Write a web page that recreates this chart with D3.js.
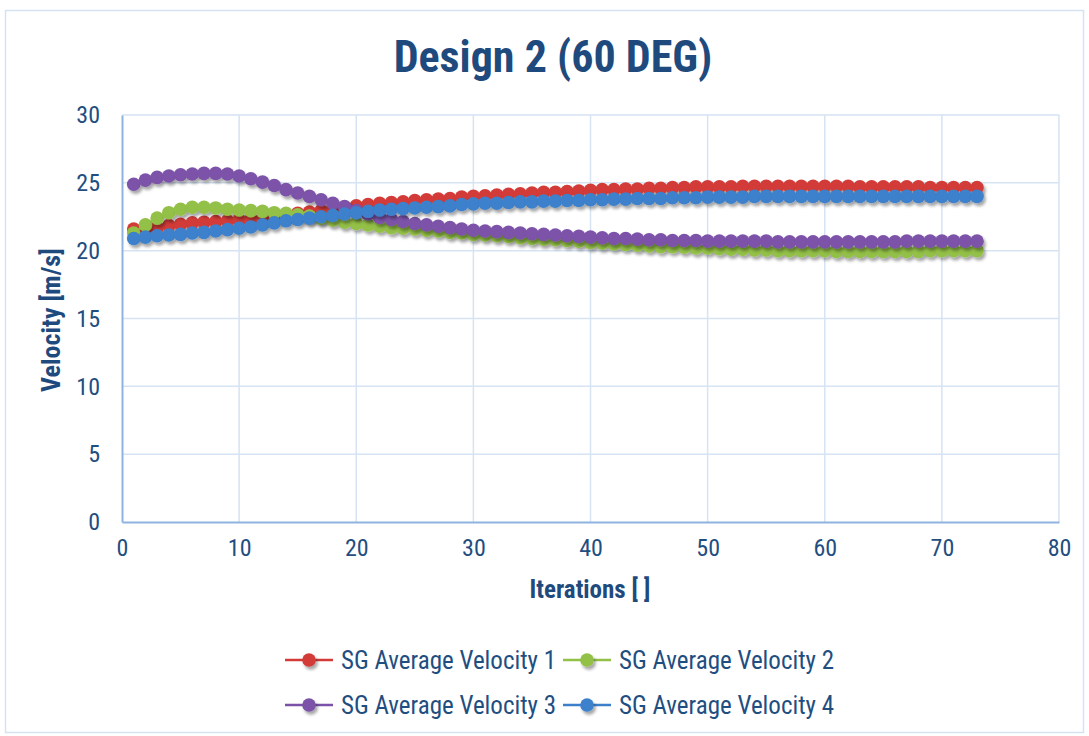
<!DOCTYPE html>
<html><head><meta charset="utf-8">
<script src="https://cdn.jsdelivr.net/npm/d3@7"></script>
<style>
body{margin:0;background:#fff;}
text{font-family:"Liberation Sans Narrow","Arial Narrow","Roboto Condensed","Liberation Sans",sans-serif;}
</style></head>
<body><svg id="c" width="1089" height="736"></svg>
<script>
const iterations = [1,2,3,4,5,6,7,8,9,10,11,12,13,14,15,16,17,18,19,20,21,22,23,24,25,26,27,28,29,30,31,32,33,34,35,36,37,38,39,40,41,42,43,44,45,46,47,48,49,50,51,52,53,54,55,56,57,58,59,60,61,62,63,64,65,66,67,68,69,70,71,72,73];
const velocity1 = [21.6,21.6,21.7,21.85,21.95,22.05,22.1,22.15,22.2,22.25,22.3,22.4,22.5,22.6,22.75,22.85,22.95,23.1,23.2,23.3,23.4,23.5,23.55,23.6,23.7,23.75,23.8,23.85,23.95,24.0,24.05,24.1,24.15,24.2,24.25,24.3,24.3,24.35,24.4,24.45,24.5,24.5,24.55,24.55,24.6,24.6,24.65,24.65,24.7,24.7,24.7,24.7,24.75,24.75,24.75,24.75,24.75,24.75,24.75,24.75,24.75,24.75,24.7,24.7,24.7,24.7,24.7,24.7,24.65,24.65,24.65,24.65,24.65];
const velocity2 = [21.3,21.9,22.4,22.8,23.05,23.2,23.2,23.15,23.05,23.0,22.95,22.9,22.8,22.75,22.65,22.55,22.4,22.25,22.1,22.0,21.9,21.8,21.7,21.65,21.6,21.5,21.45,21.35,21.3,21.2,21.15,21.1,21.05,20.95,20.9,20.85,20.8,20.75,20.7,20.6,20.55,20.5,20.45,20.4,20.35,20.3,20.3,20.25,20.2,20.2,20.15,20.1,20.1,20.05,20.05,20.0,20.0,20.0,20.0,20.0,19.95,19.95,19.95,19.95,19.95,19.95,19.95,19.95,20.0,20.0,20.0,20.0,20.0];
const velocity3 = [24.9,25.2,25.4,25.5,25.6,25.65,25.7,25.7,25.65,25.5,25.3,25.05,24.8,24.5,24.25,24.0,23.75,23.5,23.25,22.95,22.7,22.45,22.3,22.15,22.0,21.9,21.8,21.7,21.6,21.5,21.45,21.4,21.35,21.3,21.25,21.2,21.15,21.1,21.05,21.0,20.95,20.9,20.9,20.85,20.8,20.8,20.75,20.75,20.75,20.7,20.7,20.7,20.7,20.7,20.7,20.65,20.65,20.65,20.65,20.65,20.65,20.65,20.65,20.65,20.65,20.65,20.7,20.7,20.7,20.7,20.7,20.7,20.7];
const velocity4 = [20.9,21.0,21.1,21.15,21.2,21.3,21.35,21.45,21.55,21.65,21.75,21.9,22.05,22.2,22.3,22.4,22.5,22.6,22.7,22.8,22.9,23.0,23.05,23.1,23.15,23.2,23.25,23.3,23.4,23.45,23.5,23.5,23.55,23.6,23.6,23.65,23.65,23.7,23.7,23.75,23.75,23.8,23.8,23.85,23.85,23.85,23.9,23.9,23.9,23.95,23.95,23.95,23.95,24.0,24.0,24.0,24.0,24.0,24.0,24.0,24.0,24.0,24.0,24.0,24.0,24.0,24.0,24.0,24.0,24.0,24.0,24.0,24.0];
const seriesNames = ["SG Average Velocity 1","SG Average Velocity 2","SG Average Velocity 3","SG Average Velocity 4"];
const seriesColors = ["#d23b37","#93c047","#7b52a8","#3c80cc"];
const xTicks = [0,10,20,30,40,50,60,70,80];
const yTicks = [0,5,10,15,20,25,30];
const title = "Design 2 (60 DEG)";
const xTitle = "Iterations [ ]";
const yTitle = "Velocity [m/s]";

const allSeries = [velocity1,velocity2,velocity3,velocity4];
const svg = d3.select("#c");
const textColor = "#1f4e80";

const defs = svg.append("defs");
const f = defs.append("filter").attr("id","sh").attr("x","-50%").attr("y","-50%").attr("width","200%").attr("height","200%");
f.append("feDropShadow").attr("dx",2).attr("dy",3).attr("stdDeviation",1.8).attr("flood-color","#000").attr("flood-opacity",0.35);

svg.append("rect").attr("x",5.5).attr("y",10.5).attr("width",1078).attr("height",722)
  .attr("fill","#fff").attr("stroke","#d5e2f2").attr("stroke-width",1.5);

const x = d3.scaleLinear().domain([0,80]).range([122,1059]);
const y = d3.scaleLinear().domain([0,30]).range([522,115]);

svg.append("g").selectAll("line").data(yTicks.filter(d=>d>0)).join("line")
  .attr("x1",x(0)).attr("x2",x(80)).attr("y1",d=>y(d)).attr("y2",d=>y(d))
  .attr("stroke","#d6e3f3").attr("stroke-width",1.5);
svg.append("g").selectAll("line").data(xTicks.filter(d=>d>0)).join("line")
  .attr("y1",y(0)).attr("y2",y(30)).attr("x1",d=>x(d)).attr("x2",d=>x(d))
  .attr("stroke","#d6e3f3").attr("stroke-width",1.5);

const xAxis = svg.append("g").attr("transform",`translate(0,${y(0)})`)
  .call(d3.axisBottom(x).tickValues(xTicks).tickSize(0).tickPadding(20));
const yAxis = svg.append("g").attr("transform",`translate(${x(0)},0)`)
  .call(d3.axisLeft(y).tickValues(yTicks).tickSize(0).tickPadding(22));
[xAxis,yAxis].forEach(a=>{
  a.select(".domain").attr("stroke","#8eb3e0").attr("stroke-width",2);
  a.selectAll("text").attr("fill",textColor).style("font-size","24px");
});
xAxis.selectAll("text").attr("dy","0.6em");

allSeries.forEach((vals,si)=>{
  const pts = iterations.map((it,i)=>[it,vals[i]]);
  const g = svg.append("g");
  g.append("path").datum(pts)
    .attr("d",d3.line().x(d=>x(d[0])).y(d=>y(d[1])))
    .attr("fill","none").attr("stroke",seriesColors[si]).attr("stroke-width",2.5);
  g.selectAll("circle").data(pts).join("circle")
    .attr("cx",d=>x(d[0])).attr("cy",d=>y(d[1])).attr("r",6.8)
    .attr("fill",seriesColors[si]).attr("filter","url(#sh)");
});

svg.append("text").attr("x",553).attr("y",72).attr("text-anchor","middle")
  .attr("fill","#1f4a7d").style("font-size","44px").style("font-weight","bold").text(title);
svg.append("text").attr("x",590).attr("y",598).attr("text-anchor","middle")
  .attr("fill","#1f4a7d").style("font-size","25px").style("font-weight","bold").text(xTitle);
svg.append("text").attr("transform","translate(60,320) rotate(-90)").attr("text-anchor","middle")
  .attr("fill","#1f4a7d").style("font-size","26px").style("font-weight","bold").text(yTitle);

const legPos = [[285,660],[563,660],[285,705],[563,705]];
seriesNames.forEach((n,i)=>{
  const [lx,ly] = legPos[i];
  const g = svg.append("g");
  g.append("line").attr("x1",lx).attr("x2",lx+48).attr("y1",ly).attr("y2",ly)
    .attr("stroke",seriesColors[i]).attr("stroke-width",2.5);
  g.append("circle").attr("cx",lx+24).attr("cy",ly).attr("r",6.8).attr("fill",seriesColors[i]).attr("filter","url(#sh)");
  g.append("text").attr("x",lx+56).attr("y",ly+9).attr("fill",textColor).style("font-size","25px").text(n);
});
</script></body></html>
